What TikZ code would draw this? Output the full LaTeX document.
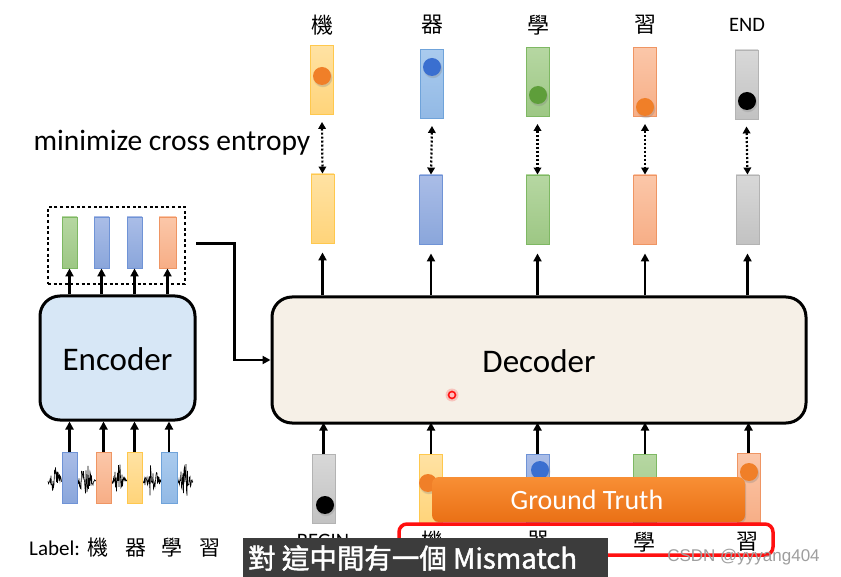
\documentclass[tikz,border=0pt]{standalone}
\usepackage{fontspec}
\setmainfont{Carlito}
\newfontfamily\cjk{Noto Sans CJK TC}
\newfontfamily\cjksub{Noto Sans CJK TC}[FakeBold=1.6]
\newfontfamily\wmfont{Liberation Sans}
\usetikzlibrary{arrows.meta,shadows,calc}
\definecolor{yD}{HTML}{FFC84D}\definecolor{yT}{HTML}{FFE2A3}\definecolor{yB}{HTML}{FFD47A}
\definecolor{bD}{HTML}{6F93D6}\definecolor{bT}{HTML}{AABDE7}\definecolor{bB}{HTML}{8AA6DB}
\definecolor{lD}{HTML}{6FA3DA}\definecolor{lT}{HTML}{AACBEE}\definecolor{lB}{HTML}{92B9E5}
\definecolor{gD}{HTML}{7EB863}\definecolor{gT}{HTML}{B6D7A2}\definecolor{gB}{HTML}{9DC784}
\definecolor{oD}{HTML}{EF9563}\definecolor{oT}{HTML}{FBC7A9}\definecolor{oB}{HTML}{F7AE86}
\definecolor{kD}{HTML}{B3B3B3}\definecolor{kT}{HTML}{D8D8D8}\definecolor{kB}{HTML}{C2C2C2}
\definecolor{dotO}{HTML}{F07F28}\definecolor{dotB}{HTML}{3A6FD0}\definecolor{dotG}{HTML}{5E9E3A}
\definecolor{encF}{HTML}{D7E7F6}\definecolor{decF}{HTML}{F6F0E7}
\definecolor{gtT}{HTML}{F88F35}\definecolor{gtB}{HTML}{EA7015}
\definecolor{redR}{HTML}{FF1010}\definecolor{subBG}{HTML}{3C3C3C}
\tikzset{
  vec/.style={draw, line width=0.9pt, minimum width=23pt, minimum height=69pt, inner sep=0pt},
  svec/.style={draw, line width=0.9pt, minimum width=15pt, minimum height=51pt, inner sep=0pt},
  cY/.style={draw=yD, top color=yT, bottom color=yB},
  cB/.style={draw=bD, top color=bT, bottom color=bB},
  cL/.style={draw=lD, top color=lT, bottom color=lB},
  cG/.style={draw=gD, top color=gT, bottom color=gB},
  cO/.style={draw=oD, top color=oT, bottom color=oB},
  cK/.style={draw=kD, top color=kT, bottom color=kB},
  dot/.style={circle, inner sep=0pt, minimum size=18pt,
    circular drop shadow={shadow xshift=0.6pt, shadow yshift=-1.4pt, opacity=0.3}},
  arr/.style={line width=2.6pt, -{Triangle[length=8pt,width=8pt]}},
  darr/.style={line width=2.2pt, dash pattern=on 2pt off 2pt,
    {Triangle[length=7pt,width=7.5pt]}-{Triangle[length=7pt,width=7.5pt]}},
  bigbox/.style={draw, line width=3pt, rounded corners=20pt, inner sep=0pt},
  cjklab/.style={font=\cjk\fontsize{22}{22}\selectfont, inner sep=0pt},
  latlab/.style={font=\fontsize{20.5}{20.5}\selectfont, inner sep=0pt},
  declare function={env(\x)=2+15*max(0,1-abs(\x-55)/7)+18*max(0,1-abs(\x-86)/8)
     +17*max(0,1-abs(\x-119)/7)+17*max(0,1-abs(\x-152)/8)+18*max(0,1-abs(\x-185)/7);}
}
\begin{document}
\begin{tikzpicture}[x=1pt,y=-1pt]
\useasboundingbox (0,0) rectangle (841,577);
\fill[white] (0,0) rectangle (841,577);

% ---------- top labels ----------
\node[cjklab] (l1) at (322,25) {機};
\node[cjklab] (l2) at (432,25) {器};
\node[cjklab] (l3) at (538,25) {學};
\node[cjklab] (l4) at (645,25) {習};
\node[latlab] (l5) at (747,25) {END};

% ---------- top (target) vectors ----------
\node[vec,cY] (t1) at (322,80) {};
\node[vec,cL] (t2) at (432,84) {};
\node[vec,cG] (t3) at (537.5,82) {};
\node[vec,cO] (t4) at (645,82) {};
\node[vec,cK] (t5) at (746.5,84.5) {};
\node[dot,fill=dotO] (td1) at (322,76) {};
\node[dot,fill=dotB] (td2) at (432,67) {};
\node[dot,fill=dotG] (td3) at (538,95) {};
\node[dot,fill=dotO] (td4) at (645,107) {};
\node[dot,fill=black] (td5) at (747,101) {};

\node[anchor=center, inner sep=0pt, font=\fontsize{29.5}{29.5}\selectfont] (mce) at (172,143) {minimize cross entropy};

% ---------- decoder output vectors ----------
\node[vec,cY] (m1) at (322.5,208.5) {};
\node[vec,cB] (m2) at (431,209.5) {};
\node[vec,cG] (m3) at (537.5,209.5) {};
\node[vec,cO] (m4) at (645,209.5) {};
\node[vec,cK] (m5) at (747.5,209.5) {};
\foreach \i in {1,...,5}{
  \draw[darr] ([yshift=-7pt]t\i.south) -- (m\i.north);
}

% ---------- decoder ----------
\node[bigbox, fill=decF, minimum width=534pt, minimum height=126pt] (dec) at (539,360) {};
\node[inner sep=0pt, font=\fontsize{33}{33}\selectfont] (dect) at (539,361) {Decoder};
\fill[red, opacity=0.18] (452,395) circle (6.5pt);
\node[circle, draw=redR, line width=1.6pt, fill=red!25, inner sep=0pt, minimum size=7pt] (cur) at (452,395) {};
\foreach \i in {1,...,5}{
  \draw[arr] (m\i.south |- dec.north) -- ([yshift=-9pt]m\i.south);
}

% ---------- encoder ----------
\node[bigbox, fill=encF, minimum width=155pt, minimum height=124pt] (enc) at (117.5,358) {};
\node[inner sep=0pt, font=\fontsize{33}{33}\selectfont] (enct) at (117.5,359) {Encoder};
\node[svec,cG] (e1) at (69.5,242.5) {};
\node[svec,cB] (e2) at (101.5,242.5) {};
\node[svec,cB] (e3) at (134.5,242.5) {};
\node[svec,cO,minimum width=17pt] (e4) at (167.5,242.5) {};
\foreach \i in {1,...,4}{
  \draw[arr] (e\i.south |- enc.north) -- (e\i.south);
}
\node[draw, line width=2.8pt, dash pattern=on 3pt off 2.6pt, minimum width=137pt, minimum height=77pt, inner sep=0pt] (encout) at (116.5,245.5) {};
\draw[arr] ([xshift=10pt,yshift=2pt]encout.east) -- ++(38,0) |- (dec.west);

% ---------- waveform and input frames ----------
\pgfmathsetseed{11}
\draw[line width=0.6pt] (48,481) \foreach \i in {1,...,290}{ -- ({48+\i*0.5},{481+env(48+\i*0.5)*(2*rnd-1)}) };
\node[svec,cB] (w1) at (69.5,477.5) {};
\node[svec,cO] (w2) at (103.5,477.5) {};
\node[svec,cY] (w3) at (134.5,477.5) {};
\node[svec,cL,minimum width=16pt] (w4) at (169,477.5) {};
\foreach \i in {1,...,4}{
  \draw[arr] (w\i.north) -- (w\i.north |- enc.south);
}

% ---------- label ----------
\node[anchor=west, inner sep=0pt, font=\fontsize{21}{21}\selectfont] (labl) at (29,548) {Label:};
\node[cjklab, font=\cjk\fontsize{21}{21}\selectfont] (ll1) at (98,548) {機};
\node[cjklab, font=\cjk\fontsize{21}{21}\selectfont] (ll2) at (136,548) {器};
\node[cjklab, font=\cjk\fontsize{21}{21}\selectfont] (ll3) at (172,548) {學};
\node[cjklab, font=\cjk\fontsize{21}{21}\selectfont] (ll4) at (210,548) {習};

% ---------- decoder inputs ----------
\node[vec,cK] (b1) at (323.5,489) {};
\node[vec,cY] (b2) at (431,489) {};
\node[vec,cB] (b3) at (537.5,489) {};
\node[vec,cG] (b4) at (645,489) {};
\node[vec,cO] (b5) at (748.5,488) {};
\node[dot,fill=black] (bd1) at (325,505) {};
\node[dot,fill=dotO] (bd2) at (428,483) {};
\node[dot,fill=dotB] (bd3) at (540,470) {};
\node[dot,fill=dotO] (bd5) at (749,472) {};
\foreach \i in {1,...,5}{
  \draw[arr] (b\i.north) -- ([yshift=2pt]b\i.north |- dec.south);
}

% ground truth
\node[draw=none, rounded corners=7pt, top color=gtT, bottom color=gtB, minimum width=313pt, minimum height=45pt, inner sep=0pt,
  drop shadow={shadow xshift=1pt, shadow yshift=-1.5pt, opacity=0.3}] (gt) at (588.5,499.5) {};
\node[text=white, inner sep=0pt, font=\fontsize{28}{28}\selectfont] (gtt) at (587,500) {Ground Truth};

% bottom labels
\node[latlab] (bl1) at (323,541) {BEGIN};
\node[draw=redR, line width=3.5pt, rounded corners=8pt, minimum width=374pt, minimum height=31pt, inner sep=0pt] (mis) at (586,539.5) {};
\node[cjklab] (bl2) at (432,541) {機};
\node[cjklab] (bl3) at (538,541) {器};
\node[cjklab] (bl4) at (644,542) {學};
\node[cjklab] (bl5) at (747,542) {習};

% watermark
\node[inner sep=0pt, text=black!38, font=\wmfont\fontsize{17}{17}\selectfont] (wm) at (743.5,557) {CSDN @yyyang404};

% subtitle
\node[fill=subBG, minimum width=365pt, minimum height=39pt, inner sep=0pt] (sub) at (425.5,557.5) {};
\node[anchor=west, text=white, inner sep=0pt, font=\cjksub\fontsize{27.5}{27.5}\selectfont] (subt) at (248,558) {對 這中間有一個 Mismatch};
\end{tikzpicture}
\end{document}
